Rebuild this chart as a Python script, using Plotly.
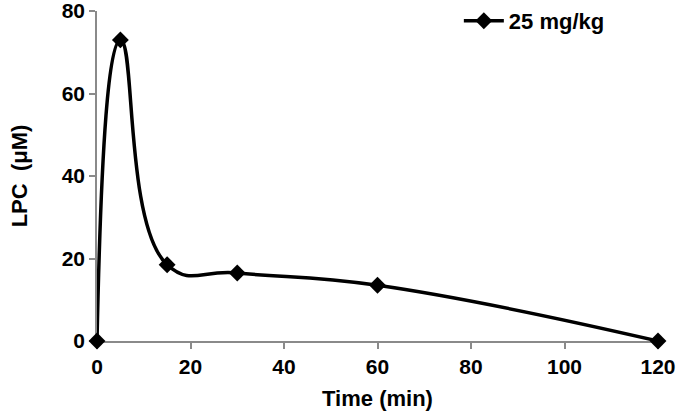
import plotly.graph_objects as go

# Zeitpunkte (min) und LPC-Konzentration (µM)
zeit = [0, 5, 15, 30, 60, 120]
lpc = [0, 73, 18.5, 16.5, 13.5, 0]
serie_name = "25 mg/kg"

x_ticks = [0, 20, 40, 60, 80, 100, 120]
y_ticks = [0, 20, 40, 60, 80]

fig = go.Figure()
fig.add_trace(go.Scatter(
    x=zeit, y=lpc, mode="lines+markers", name=serie_name,
    line=dict(color="black", width=3.5, shape="spline", smoothing=1.3),
    marker=dict(symbol="diamond", size=13, color="black"),
    cliponaxis=False,
))

achse = dict(
    showgrid=False, zeroline=False, showline=True, linecolor="#8a8a8a", linewidth=1.5,
    ticks="outside", ticklen=6, tickcolor="#8a8a8a", tickwidth=1.5,
    tickfont=dict(family="Liberation Sans", size=21, color="black", weight="bold"),
    automargin=False, layer="below traces", ticklabeloverflow="allow",
)

fig.update_layout(
    width=680, height=417,
    margin=dict(l=97, r=22, t=11, b=76, autoexpand=False),
    plot_bgcolor="white", paper_bgcolor="white",
    font=dict(family="Liberation Sans", color="black"),
    xaxis=dict(**achse, range=[0, 120], tickvals=x_ticks,
               title=dict(text="<b>Time (min)</b>", font=dict(size=22), standoff=14)),
    yaxis=dict(**achse, range=[0, 80], tickvals=y_ticks,
               title=dict(text="<b>LPC  (μM)</b>", font=dict(size=22), standoff=28)),
    showlegend=True,
    legend=dict(x=0.645, y=1.0, yref="container", xanchor="left", yanchor="top",
                bgcolor="rgba(0,0,0,0)", itemwidth=40, font=dict(size=22, weight="bold")),
)

# Standard-Rand des <body> entfernen, damit die Grafik bei (0,0) beginnt
fig.write_html("out.html", config={"displayModeBar": False},
               post_script="document.body.style.margin='0';")
